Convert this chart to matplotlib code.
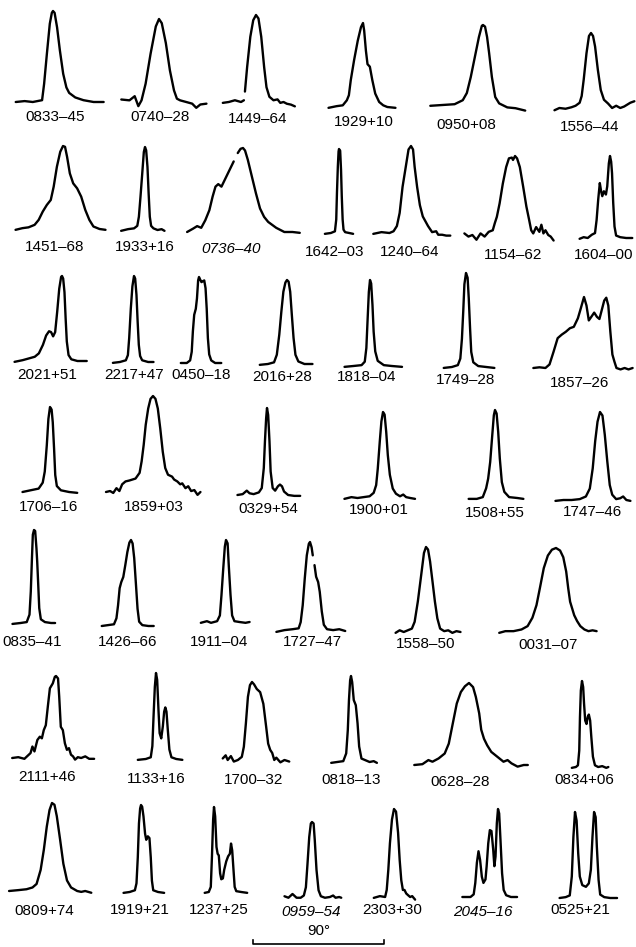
import numpy as np
import matplotlib
matplotlib.use('Agg')
import matplotlib.pyplot as plt
from matplotlib import font_manager

nan = np.nan

# mean pulse profiles: phase in degrees from the main peak, intensity relative to the peak
# row 1
ph_0833_45 = [-25.6, -19.5, -13.9, -7.5, -6.1, -4.2, -2.2, -0.8, 0, 1.1, 2.8, 4.7, 7, 9.2, 11.1, 15.3, 20.9, 27.9, 34.8]
fx_0833_45 = [0, 0.01, 0, 0.02, 0.2, 0.53, 0.86, 0.98, 1, 0.98, 0.82, 0.57, 0.31, 0.16, 0.1, 0.05, 0.02, 0, 0]
ph_0740_28 = [-25.9, -20.3, -16.7, -14.2, -12, -9.2, -5.8, -2.2, 0, 1.9, 4.7, 7.5, 10.3, 12.3, 14.5, 18.7, 22.8, 25.6, 28.4, 32.6]
fx_0740_28 = [0.03, 0.02, 0.07, -0.05, 0.02, 0.22, 0.58, 0.91, 1, 0.95, 0.71, 0.38, 0.14, 0.04, 0.02, 0, -0.02, -0.07, -0.03, -0.02]
ph_1449_64 = [-22.8, -18.7, -14.5, -10.3, -8.3, nan, -7.6, -6.1, -3.9, -1.9, 0, 1.7, 3.6, 5.6, 7.2, 9.2, 12, 14.8, 16.7, 18.9, 21.2, 24, 26.7]
fx_1449_64 = [-0.01, 0, 0.02, 0, 0.02, nan, 0.12, 0.4, 0.75, 0.94, 1, 0.96, 0.75, 0.4, 0.17, 0.06, 0.02, 0.03, -0.01, 0, -0.02, -0.03, -0.05]
ph_1929_10 = [-23.7, -18.1, -13.9, -11.1, -9.7, -8.4, -6.1, -3.6, -1.4, 0, 0.8, 2, 3.1, 4.7, 6.4, 8.4, 11.1, 13.9, 16.7, 22.3]
fx_1929_10 = [-0.01, 0.01, 0.02, 0.08, 0.14, 0.32, 0.56, 0.79, 0.95, 1, 0.91, 0.67, 0.51, 0.48, 0.32, 0.16, 0.06, 0.02, 0, -0.01]
ph_0950_08 = [-36.2, -27.9, -19.5, -13.9, -11.1, -8.4, -5.6, -2.8, -0.8, 0, 1.4, 2.8, 4.2, 6.1, 8.4, 11.1, 16.7, 22.3, 29]
fx_0950_08 = [-0.01, 0, 0.01, 0.06, 0.15, 0.35, 0.6, 0.85, 0.99, 1, 0.98, 0.85, 0.65, 0.35, 0.1, 0.02, -0.03, -0.04, -0.07]
ph_1556_44 = [-25.1, -21.7, -17.5, -13.4, -10.6, -7.8, -6.4, -5, -3.1, -1.4, 0, 1.4, 2.8, 4.7, 6.7, 8.9, 11.7, 14.5, 17.3, 20.1, 22.8, 27, 29.8]
fx_1556_44 = [-0.03, 0, -0.01, 0.01, 0.03, 0.07, 0.16, 0.38, 0.73, 0.96, 1, 0.96, 0.82, 0.51, 0.24, 0.11, 0.06, 0, 0.03, 0, 0.02, 0.07, 0.09]
# row 2
ph_1451_68 = [-32.6, -27.9, -23.7, -19.5, -16.7, -13.9, -11.1, -8.4, -6.4, -4.2, -1.9, 0, 1.4, 2.8, 4.7, 7, 9.7, 12.5, 15.3, 18.1, 20.9, 25.1, 29.2]
fx_1451_68 = [-0.01, 0.01, 0.02, 0.05, 0.11, 0.21, 0.29, 0.35, 0.51, 0.75, 0.93, 1, 0.99, 0.87, 0.67, 0.55, 0.49, 0.39, 0.23, 0.11, 0.03, 0, -0.01]
ph_1933_16 = [-16.4, -11.7, -7.5, -5.3, -4.2, -3.1, -1.9, -0.8, 0, 0.8, 1.7, 2.5, 3.3, 4.2, 5.8, 8.6, 11.4, 13.4]
fx_1933_16 = [-0.01, 0.01, 0.02, 0.05, 0.16, 0.4, 0.68, 0.94, 1, 0.96, 0.76, 0.44, 0.16, 0.05, 0.02, 0, 0.01, -0.01]
ph_0736_40 = [-38.4, -34.3, -31.5, -28.7, -25.9, -23.1, -20.9, -18.9, -17, -14.8, -12, -9.2, -6.4, nan, -3.6, -1.7, 0, 1.4, 3.3, 6.1, 8.9, 11.7, 14.5, 17.3, 22.8, 28.4, 34, 39]
fx_0736_40 = [0, 0.04, 0.07, 0.05, 0.14, 0.26, 0.42, 0.54, 0.57, 0.54, 0.64, 0.74, 0.84, nan, 0.94, 0.99, 1, 0.97, 0.86, 0.66, 0.46, 0.28, 0.18, 0.12, 0.05, 0, 0, -0.01]
ph_1642_03 = [-9.7, -5.6, -2.8, -1.9, -1.4, -0.8, -0.3, 0, 0.8, 1.4, 1.9, 2.5, 3.1, 4.2, 7, 9.7]
fx_1642_03 = [-0.01, 0, 0.02, 0.16, 0.48, 0.79, 0.97, 1, 0.98, 0.75, 0.44, 0.16, 0.04, 0.01, 0, -0.01]
ph_1240_64 = [-25.9, -20.3, -14.8, -12, -9.7, -7.8, -5.8, -3.6, -1.7, 0, 1.4, 2.5, 4.2, 6.1, 8.1, 11.7, 14.5, 17.3, 18.7, 21.4, 24.2, 27]
fx_1240_64 = [-0.01, 0.01, 0, 0.02, 0.08, 0.23, 0.53, 0.76, 0.96, 1, 0.96, 0.76, 0.53, 0.32, 0.19, 0.08, 0.01, 0.02, -0.02, -0.02, -0.03, -0.03]
ph_1154_62 = [-33.4, -30.6, -27.9, -25.1, -22.3, -19.5, -16.7, -13.9, -12.5, -11.1, -9.2, -7, -4.7, -2.8, -0.8, 0, 1.4, 2.8, 4.7, 7, 9.2, 11.1, 12.5, 13.9, 15.9, 18.1, 19.5, 20.9, 22.3, 24.2, 25.9, 27.9]
fx_1154_62 = [0.02, -0.02, 0, -0.06, 0.02, -0.02, 0.04, 0.06, 0.15, 0.23, 0.4, 0.65, 0.86, 0.97, 0.98, 0.95, 1, 0.97, 0.86, 0.61, 0.36, 0.19, 0.06, 0.02, 0.1, 0.04, 0.13, 0.02, 0.06, 0, -0.02, -0.07]
ph_1604_00 = [-20.9, -18.1, -15.3, -12.5, -10.3, -9.2, -8.1, -7, -6.1, -5.3, -4.2, -2.8, -1.9, -0.8, 0, 0.8, 1.4, 2.2, 3.1, 4.2, 7, 11.1, 15.3]
fx_1604_00 = [-0.01, 0.01, 0, 0.04, 0.06, 0.22, 0.47, 0.67, 0.57, 0.51, 0.57, 0.53, 0.63, 0.91, 1, 0.93, 0.79, 0.43, 0.14, 0.03, 0.01, 0, 0]
# row 3
ph_2021_51 = [-32.6, -27, -22.8, -18.7, -15.9, -13.1, -10.9, -8.9, -7.5, -6.1, -4.7, -3.3, -1.9, -0.6, 0, 0.8, 1.7, 2.5, 3.3, 4.5, 6.4, 10.6, 17]
fx_2021_51 = [-0.01, 0.01, 0.03, 0.05, 0.09, 0.19, 0.3, 0.35, 0.34, 0.29, 0.34, 0.58, 0.85, 0.99, 1, 0.97, 0.81, 0.5, 0.23, 0.07, 0.02, 0, 0]
ph_2217_47 = [-14.5, -9.7, -5.6, -4.2, -3.3, -2.2, -1.1, 0, 0.8, 1.7, 2.5, 3.3, 4.2, 5.6, 9.7, 13.4]
fx_2217_47 = [-0.01, 0, 0.02, 0.08, 0.28, 0.62, 0.88, 1, 0.97, 0.78, 0.47, 0.2, 0.07, 0.02, 0, 0]
ph_0450_18 = [-12.5, -8.4, -6.1, -5, -4.2, -3.3, -2.2, -1.4, -0.6, 0, 0.8, 1.7, 2.5, 3.6, 4.5, 5.3, 6.1, 7, 8.4, 11.1, 15.3]
fx_0450_18 = [0, 0, 0.03, 0.13, 0.37, 0.56, 0.63, 0.75, 0.96, 1, 0.97, 0.94, 0.95, 0.96, 0.87, 0.63, 0.29, 0.1, 0.03, 0, 0]
ph_2016_28 = [-18.7, -13.1, -8.9, -7, -5.3, -3.9, -2.5, -1.1, 0, 1.1, 2.2, 3.3, 4.5, 5.8, 7.8, 12, 17.5]
fx_2016_28 = [-0.01, 0, 0.02, 0.11, 0.35, 0.62, 0.86, 0.97, 1, 0.98, 0.86, 0.59, 0.31, 0.11, 0.03, 0, 0]
ph_1818_04 = [-17.5, -11.4, -5.8, -3.6, -2.5, -1.7, -0.8, 0, 0.8, 1.7, 2.5, 3.6, 5.3, 9.5, 15, 22]
fx_1818_04 = [-0.01, 0, 0.01, 0.05, 0.21, 0.52, 0.86, 1, 0.96, 0.71, 0.4, 0.17, 0.06, 0.01, 0, -0.01]
ph_1749_28 = [-15.3, -9.7, -5.6, -3.9, -2.8, -1.9, -1.1, 0, 1.1, 1.9, 2.8, 3.6, 5, 8.4, 13.9, 19.5]
fx_1749_28 = [-0.01, 0, 0.02, 0.09, 0.3, 0.59, 0.88, 1, 0.95, 0.73, 0.41, 0.16, 0.05, 0.01, 0, -0.01]
ph_1857_26 = [-34.8, -30.6, -26.5, -23.7, -20.9, -18.1, -15.3, -12.5, -9.7, -7, -4.2, -2.2, 0, 1.7, 3.3, 5, 7, 8.9, 10.6, 12.5, 13.9, 15.3, 16.7, 18.1, 19.5, 20.9, 22.3, 25.1, 27.9, 30.6, 33.4]
fx_1857_26 = [0, 0.01, 0, 0.05, 0.23, 0.42, 0.47, 0.51, 0.56, 0.58, 0.7, 0.84, 1, 0.88, 0.67, 0.72, 0.78, 0.72, 0.69, 0.84, 0.95, 0.99, 0.88, 0.51, 0.19, 0.09, 0, -0.02, 0, -0.02, 0]
# row 4
ph_1706_16 = [-18.9, -13.4, -7.8, -5, -3.6, -2.2, -1.1, 0, 1.1, 1.9, 2.8, 3.6, 4.7, 7.5, 13.1, 18.7]
fx_1706_16 = [0, 0.02, 0.04, 0.11, 0.24, 0.55, 0.86, 1, 0.97, 0.82, 0.51, 0.2, 0.07, 0.02, 0, -0.01]
ph_1859_03 = [-32.3, -29.5, -27.3, -25.1, -23.1, -21.2, -18.9, -16.2, -12, -9.2, -7.8, -6.4, -5, -3.3, -1.7, 0, 1.7, 3.3, 5, 6.7, 8.4, 10.3, 13.1, 14.5, 16.7, 18.7, 20.1, 22.3, 24.2, 26.2, 28.4, 30.6, 32.6]
fx_1859_03 = [0, 0.01, -0.01, 0.04, 0.01, 0.08, 0.11, 0.12, 0.14, 0.2, 0.32, 0.49, 0.7, 0.87, 0.97, 1, 0.97, 0.87, 0.66, 0.42, 0.25, 0.18, 0.16, 0.13, 0.11, 0.08, 0.09, 0.04, 0.06, 0.01, 0.02, -0.03, 0]
ph_0329_54 = [-20.3, -16.7, -13.9, -12, -9.2, -5.6, -3.6, -2.2, -1.4, -0.6, 0, 0.8, 1.7, 2.5, 3.9, 5.6, 7.5, 8.9, 10.3, 11.7, 14.5, 18.7, 22.8]
fx_0329_54 = [0, 0.01, 0.05, 0.02, 0.01, 0.03, 0.08, 0.31, 0.62, 0.88, 1, 0.92, 0.62, 0.27, 0.08, 0.05, 0.1, 0.12, 0.1, 0.04, 0, -0.01, -0.01]
ph_1900_01 = [-26.5, -21.7, -17.5, -13.4, -9.2, -6.4, -4.7, -3.6, -2.2, -1.1, 0, 1.1, 2.2, 3.3, 4.7, 6.7, 8.9, 11.7, 13.9, 15.9, 18.7, 22]
fx_1900_01 = [-0.01, 0.01, 0, 0.01, 0.02, 0.06, 0.15, 0.34, 0.66, 0.89, 1, 0.97, 0.77, 0.5, 0.27, 0.11, 0.05, 0.02, 0.04, 0.01, 0, -0.01]
ph_1508_55 = [-18.1, -12.5, -8.4, -6.1, -4.7, -3.3, -1.9, -0.8, 0, 1.1, 2.2, 3.3, 4.7, 6.4, 9.7, 15.3, 19.5]
fx_1508_55 = [-0.01, -0.01, 0.01, 0.11, 0.22, 0.41, 0.71, 0.94, 1, 0.96, 0.75, 0.45, 0.18, 0.07, 0.01, 0, -0.01]
ph_1747_46 = [-30.6, -25.1, -19.5, -13.9, -9.7, -7, -5, -3.3, -1.7, 0, 1.7, 3.3, 5, 6.7, 8.4, 11.1, 13.9, 15.9, 18.1, 20.9]
fx_1747_46 = [-0.01, 0, 0, 0.01, 0.04, 0.13, 0.36, 0.67, 0.89, 1, 0.96, 0.74, 0.44, 0.17, 0.06, 0.01, 0.02, 0.04, 0, -0.01]
# row 5
ph_0835_41 = [-14.8, -9.2, -5, -3.1, -2.2, -1.4, -0.8, 0, 0.8, 1.7, 2.2, 2.8, 3.6, 4.7, 7.5, 11.7, 14.5]
fx_0835_41 = [-0.01, 0, 0.01, 0.09, 0.34, 0.7, 0.95, 1, 0.99, 0.8, 0.66, 0.45, 0.16, 0.04, 0.01, 0, 0]
ph_1426_66 = [-20.1, -15.9, -11.7, -10, -8.9, -7.8, -6.7, -5.3, -3.9, -2.5, -1.1, 0, 1.1, 2.2, 3.3, 4.5, 5.6, 7.8, 12, 15.6]
fx_1426_66 = [0, 0.01, 0.02, 0.09, 0.24, 0.44, 0.51, 0.57, 0.71, 0.86, 0.97, 1, 0.96, 0.79, 0.51, 0.2, 0.05, 0.01, 0, 0]
ph_1911_04 = [-17.3, -13.1, -10.3, -6.1, -4.2, -3.1, -1.9, -0.8, 0, 1.1, 1.9, 3.1, 4.2, 5.8, 9.2, 13.4, 16.2]
fx_1911_04 = [-0.01, 0.01, -0.01, 0.01, 0.08, 0.33, 0.65, 0.92, 1, 0.96, 0.69, 0.33, 0.08, 0.01, 0, -0.01, 0]
ph_1727_47 = [-23.1, -17.5, -12, -7.8, -6.4, -5, -3.6, -2.2, -0.8, 0, 1.1, 1.9, nan, 3.1, 4.2, 5.6, 6.7, 8.1, 9.5, 11.7, 15.9, 20.1, 24.2]
fx_1727_47 = [-0.01, 0.01, 0.02, 0.03, 0.1, 0.29, 0.59, 0.85, 0.98, 1, 0.94, 0.85, nan, 0.74, 0.61, 0.55, 0.44, 0.22, 0.07, 0.02, 0.01, 0.02, 0]
ph_1558_50 = [-20.9, -18.1, -15.3, -12.5, -9.7, -7.8, -5.6, -3.3, -1.4, 0, 1.4, 2.8, 4.5, 6.1, 7.8, 9.7, 12.5, 15.3, 18.1, 20.9, 23.7]
fx_1558_50 = [-0.01, 0.02, 0, 0.02, 0.04, 0.12, 0.36, 0.67, 0.93, 1, 0.97, 0.83, 0.59, 0.36, 0.16, 0.04, 0.01, 0.02, -0.01, 0.01, 0]
ph_0031_07 = [-39, -34.8, -29.2, -23.7, -19.5, -16.2, -13.4, -11.1, -8.4, -5.6, -2.8, 0, 2.8, 5, 7, 8.4, 9.7, 11.1, 12.5, 14.5, 16.7, 19.5, 22.3, 25.1, 27.9]
fx_0031_07 = [-0.01, 0.01, 0.01, 0.03, 0.07, 0.17, 0.32, 0.52, 0.76, 0.91, 0.98, 1, 0.97, 0.89, 0.72, 0.52, 0.36, 0.28, 0.2, 0.13, 0.07, 0.03, 0.01, 0.02, 0.01]
# row 6
ph_2111_46 = [-30.1, -25.9, -21.7, -17.5, -16.2, -14.8, -12.8, -11.1, -9.7, -8.4, -7, -5.6, -4.2, -2.2, -0.8, 0, 1.4, 2.2, 3.3, 4.7, 6.1, 7.5, 8.9, 10.3, 11.7, 13.1, 15, 17.3, 20.1, 22.8, 26.2]
fx_2111_46 = [0, 0.01, -0.01, 0.06, 0.14, 0.08, 0.22, 0.26, 0.24, 0.34, 0.4, 0.63, 0.85, 0.91, 0.99, 1, 0.97, 0.75, 0.38, 0.34, 0.18, 0.1, 0.12, 0.04, 0.02, -0.02, 0.01, 0, 0.02, -0.01, -0.01]
ph_1133_16 = [-12.5, -7, -3.6, -2.5, -1.7, -0.8, 0, 0.8, 1.7, 2.5, 3.6, 4.7, 5.6, 6.4, 7.2, 8.1, 9.2, 10.6, 13.9, 18.1]
fx_1133_16 = [-0.01, 0, 0.02, 0.15, 0.49, 0.84, 1, 0.92, 0.57, 0.3, 0.24, 0.38, 0.55, 0.6, 0.55, 0.34, 0.11, 0.02, 0, -0.01]
ph_1700_32 = [-20.1, -18.1, -16.7, -14.5, -12.5, -9.7, -7, -5.6, -4.2, -2.8, -1.4, 0, 1.4, 3.3, 5.6, 7.8, 9.7, 11.1, 12.5, 13.9, 15.3, 16.7, 19.5, 22.3, 25.6]
fx_1700_32 = [0.02, 0.06, 0, 0.05, -0.02, 0, 0.04, 0.17, 0.47, 0.81, 0.96, 1, 0.97, 0.91, 0.87, 0.72, 0.43, 0.21, 0.13, 0.09, 0, 0.03, -0.03, 0, -0.02]
ph_0818_13 = [-13.6, -9.5, -5.3, -3.3, -2.2, -1.4, -0.6, 0, 0.8, 1.9, 3.3, 4.5, 5.6, 7.2, 10, 12.8, 15.6, 17.8]
fx_0818_13 = [-0.01, 0, 0.01, 0.1, 0.37, 0.72, 0.95, 1, 0.93, 0.72, 0.66, 0.45, 0.18, 0.04, 0.02, 0, 0.01, -0.01]
ph_0628_28 = [-37.6, -32, -27.9, -25.1, -20.9, -16.7, -13.9, -11.1, -8.4, -5.6, -2.8, 0, 2.8, 4.7, 7, 8.4, 10.3, 12.5, 15.3, 19.5, 23.7, 26.5, 29.2, 33.4, 37.6, 40.4]
fx_0628_28 = [0, 0.01, 0.06, 0.04, 0.08, 0.14, 0.26, 0.51, 0.75, 0.89, 0.96, 1, 0.95, 0.83, 0.63, 0.43, 0.32, 0.24, 0.16, 0.1, 0.04, 0.06, 0.02, -0.02, 0, 0]
ph_0834_06 = [-7, -4.2, -2.8, -1.9, -1.4, -0.8, 0, 0.8, 1.4, 2.2, 3.1, 3.9, 4.7, 5.6, 6.4, 7.5, 8.9, 11.1, 13.9, 16.7, 18.1]
fx_0834_06 = [-0.01, 0, 0.02, 0.19, 0.58, 0.89, 1, 0.93, 0.74, 0.54, 0.5, 0.58, 0.61, 0.54, 0.35, 0.12, 0.02, 0, 0.01, -0.01, 0]
# row 7
ph_0809_74 = [-29.5, -23.1, -17.5, -13.4, -10.6, -7.8, -5.6, -3.6, -1.7, 0, 1.7, 3.3, 5.6, 7.8, 10.3, 13.1, 17.3, 20.1, 22.8, 27]
fx_0809_74 = [0, 0.01, 0.02, 0.04, 0.08, 0.24, 0.47, 0.73, 0.92, 1, 0.98, 0.85, 0.58, 0.31, 0.12, 0.04, 0, -0.01, 0, -0.02]
ph_1919_21 = [-12, -7.8, -4.2, -3.1, -2.2, -1.4, -0.6, 0, 0.8, 1.7, 2.8, 3.6, 4.7, 5.8, 6.7, 7.5, 8.4, 11.7, 15.9]
fx_1919_21 = [-0.01, 0, 0.02, 0.1, 0.4, 0.79, 0.96, 1, 0.98, 0.87, 0.67, 0.6, 0.64, 0.62, 0.4, 0.13, 0.02, 0, -0.01]
ph_1237_25 = [-6.4, -3.6, -2.2, -1.4, -0.6, 0, 0.8, 1.7, 2.5, 3.3, 4.2, 5, 6.1, 7, 8.4, 9.7, 10.9, 11.7, 12.5, 13.4, 14.2, 15.3, 18.7, 22.8]
fx_1237_25 = [-0.01, 0, 0.06, 0.42, 0.85, 1, 0.89, 0.53, 0.45, 0.43, 0.22, 0.15, 0.16, 0.26, 0.36, 0.42, 0.45, 0.57, 0.49, 0.26, 0.06, 0.01, 0, -0.01]
ph_0959_54 = [-18.9, -16.2, -13.4, -10.6, -7.8, -5.6, -4.2, -3.1, -1.9, -0.8, 0, 1.1, 1.9, 3.1, 4.5, 6.1, 8.9, 12.3, 14.5, 16.2, 18.7, 20.1]
fx_0959_54 = [0.01, -0.01, 0.04, -0.01, -0.01, 0.02, 0.13, 0.44, 0.8, 0.98, 1, 0.98, 0.76, 0.36, 0.09, 0.01, -0.01, 0, 0.02, -0.01, 0, -0.01]
ph_2303_30 = [-13.9, -9.7, -6.1, -5, -3.9, -2.8, -1.4, 0, 1.4, 2.8, 3.9, 5, 6.1, 7.2, 8.4, 9.7, 11.1, 12.5, 14.5]
fx_2303_30 = [-0.01, 0.01, 0, 0.08, 0.31, 0.61, 0.88, 1, 0.97, 0.73, 0.42, 0.19, 0.08, 0.08, 0.04, 0.02, 0, 0.01, -0.03]
ph_2045_16 = [-24.5, -18.9, -16.7, -15.6, -14.5, -13.4, -12.3, -11.1, -10, -8.6, -7.8, -6.7, -5.6, -4.5, -3.3, -2.5, -1.7, -0.8, 0, 0.8, 1.7, 2.8, 3.9, 5.6, 8.9, 13.1]
fx_2045_16 = [0, 0, 0.03, 0.16, 0.39, 0.52, 0.42, 0.23, 0.16, 0.2, 0.35, 0.61, 0.76, 0.75, 0.54, 0.35, 0.46, 0.84, 1, 0.95, 0.65, 0.27, 0.08, 0.02, 0, 0]
ph_0525_21 = [-10.6, -6.4, -3.6, -2.2, -1.1, 0, 1.1, 2.2, 3.3, 5, 7.5, 9.5, 10.9, 12, 13.1, 14.2, 15, 16.2, 17.3, 20.1, 24.2, 28.9]
fx_0525_21 = [0, 0.01, 0.03, 0.25, 0.71, 1, 0.9, 0.52, 0.25, 0.15, 0.13, 0.17, 0.33, 0.71, 1, 0.94, 0.6, 0.21, 0.04, 0.01, 0, 0]

SCALE_DEG = 90

profiles = [
    ('0833-45', ph_0833_45, fx_0833_45), ('0740-28', ph_0740_28, fx_0740_28),
    ('1449-64', ph_1449_64, fx_1449_64), ('1929+10', ph_1929_10, fx_1929_10),
    ('0950+08', ph_0950_08, fx_0950_08), ('1556-44', ph_1556_44, fx_1556_44),
    ('1451-68', ph_1451_68, fx_1451_68), ('1933+16', ph_1933_16, fx_1933_16),
    ('0736-40', ph_0736_40, fx_0736_40), ('1642-03', ph_1642_03, fx_1642_03),
    ('1240-64', ph_1240_64, fx_1240_64), ('1154-62', ph_1154_62, fx_1154_62),
    ('1604-00', ph_1604_00, fx_1604_00),
    ('2021+51', ph_2021_51, fx_2021_51), ('2217+47', ph_2217_47, fx_2217_47),
    ('0450-18', ph_0450_18, fx_0450_18), ('2016+28', ph_2016_28, fx_2016_28),
    ('1818-04', ph_1818_04, fx_1818_04), ('1749-28', ph_1749_28, fx_1749_28),
    ('1857-26', ph_1857_26, fx_1857_26),
    ('1706-16', ph_1706_16, fx_1706_16), ('1859+03', ph_1859_03, fx_1859_03),
    ('0329+54', ph_0329_54, fx_0329_54), ('1900+01', ph_1900_01, fx_1900_01),
    ('1508+55', ph_1508_55, fx_1508_55), ('1747-46', ph_1747_46, fx_1747_46),
    ('0835-41', ph_0835_41, fx_0835_41), ('1426-66', ph_1426_66, fx_1426_66),
    ('1911-04', ph_1911_04, fx_1911_04), ('1727-47', ph_1727_47, fx_1727_47),
    ('1558-50', ph_1558_50, fx_1558_50), ('0031-07', ph_0031_07, fx_0031_07),
    ('2111+46', ph_2111_46, fx_2111_46), ('1133+16', ph_1133_16, fx_1133_16),
    ('1700-32', ph_1700_32, fx_1700_32), ('0818-13', ph_0818_13, fx_0818_13),
    ('0628-28', ph_0628_28, fx_0628_28), ('0834+06', ph_0834_06, fx_0834_06),
    ('0809+74', ph_0809_74, fx_0809_74), ('1919+21', ph_1919_21, fx_1919_21),
    ('1237+25', ph_1237_25, fx_1237_25), ('0959-54', ph_0959_54, fx_0959_54),
    ('2303+30', ph_2303_30, fx_2303_30), ('2045-16', ph_2045_16, fx_2045_16),
    ('0525+21', ph_0525_21, fx_0525_21),
]

# where each panel sits on the page, in pixels: peak x, peak y, baseline y, label x, label y
layout = [
    (53, 11, 102, 55, 117), (159, 19, 102, 160, 117), (256, 15, 102, 258, 119),
    (363, 23, 107, 364, 122), (483, 25, 105, 466, 125), (591, 33, 108, 590, 127),
    (63, 146, 229, 55, 247), (145, 147, 230, 145, 247), (243, 148, 232, 231, 249),
    (339, 149, 233, 335, 252), (411, 146, 233, 410, 252), (513, 156, 235, 513, 255),
    (610, 156, 238, 604, 255),
    (62, 276, 361, 47, 375), (134, 276, 362, 134, 375), (199, 277, 363, 201, 375),
    (287, 280, 364, 282, 377), (370, 280, 366, 367, 377), (466, 273, 367, 466, 380),
    (584, 297, 368, 580, 383),
    (50, 407, 492, 49, 507), (153, 396, 492, 154, 507), (267, 408, 495, 268, 509),
    (383, 412, 498, 379, 510), (495, 410, 498, 495, 513), (600, 412, 500, 592, 512),
    (34, 530, 623, 32, 642), (131, 540, 626, 128, 642), (226, 540, 622, 219, 642),
    (310, 542, 631, 312, 642), (426, 547, 632, 426, 644), (556, 548, 632, 548, 645),
    (56, 676, 758, 47, 777), (156, 673, 759, 156, 779), (252, 682, 760, 254, 780),
    (351, 676, 762, 351, 780), (469, 683, 765, 460, 782), (582, 681, 767, 584, 780),
    (52, 803, 891, 44, 911), (141, 805, 892, 140, 910), (214, 807, 892, 219, 910),
    (312, 822, 897, 311, 912), (394, 809, 897, 392, 910), (498, 809, 897, 483, 912),
    (575, 812, 898, 580, 910),
]
italic = {'0736-40', '0959-54', '2045-16'}

W, H = 636, 947
DEG_PX = 131.0 / 90  # width of the 90 degree bar
HALF = 45

installed = {f.name for f in font_manager.fontManager.ttflist}
if 'Liberation Sans Narrow' in installed:
    label_font, label_size = 'Liberation Sans Narrow', 12.5
elif 'Liberation Sans' in installed:
    label_font, label_size = 'Liberation Sans', 11
else:
    label_font, label_size = 'DejaVu Sans', 9.5

fig = plt.figure(figsize=(W / 100, H / 100), dpi=100)
fig.patch.set_facecolor('white')


def panel(px, top, base):
    w = 2 * HALF * DEG_PX
    return fig.add_axes([(px - w / 2) / W, 1 - base / H, w / W, (base - top) / H])


for (name, ph, fx), (px, top, base, lx, ly) in zip(profiles, layout):
    ax = panel(px, top, base)
    ax.plot(ph, fx, color='black', lw=1.7, clip_on=False,
            solid_joinstyle='round', solid_capstyle='round')
    ax.set_xlim(-HALF, HALF)
    ax.set_ylim(0, 1)
    ax.axis('off')
    fig.text(lx / W, 1 - ly / H, name.replace('-', '\u2013'), ha='center', va='center',
             family=label_font, fontsize=label_size,
             style='italic' if name in italic else 'normal')

# 90 degree scale bar
bar_left = 253
bx = fig.add_axes([bar_left / W, 1 - 944 / H, SCALE_DEG * DEG_PX / W, 4 / H])
bx.plot([0, 0, SCALE_DEG, SCALE_DEG], [1, 0, 0, 1], color='black', lw=1.2, clip_on=False)
bx.set_xlim(0, SCALE_DEG)
bx.set_ylim(0, 1)
bx.axis('off')
fig.text((bar_left + SCALE_DEG * DEG_PX / 2) / W, 1 - 931 / H, f'{SCALE_DEG}\u00b0',
         ha='center', va='center', family=label_font, fontsize=label_size)

fig.savefig('out.png', dpi=100, facecolor='white')
